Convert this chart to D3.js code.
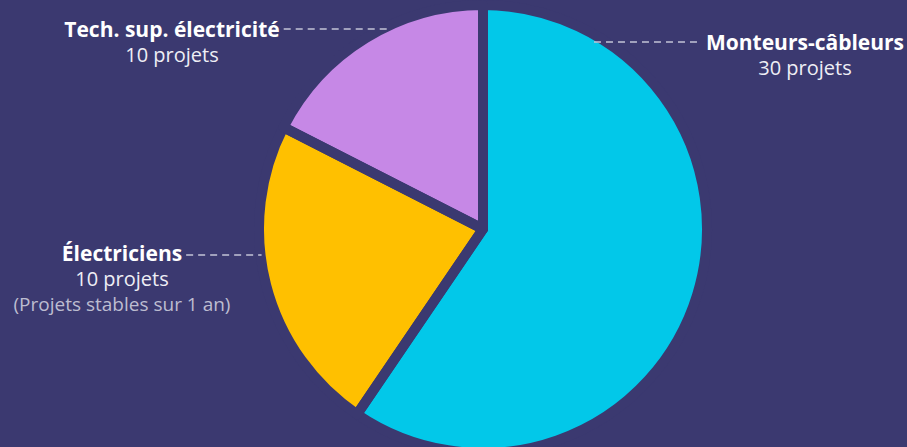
<!DOCTYPE html>
<meta charset="utf-8">
<style>
html, body { margin: 0; padding: 0; background: #3b3970; }
svg { display: block; }
.name  { font-family: "Open Sans", sans-serif; font-weight: 700; font-size: 21px; fill: #ffffff; }
.count { font-family: "Open Sans", sans-serif; font-weight: 400; font-size: 20px; fill: #eeeef5; }
.note  { font-family: "Open Sans", sans-serif; font-weight: 400; font-size: 19px; fill: #bdbdd0; }
.leader { stroke: #c4c4d6; stroke-width: 1.5; stroke-dasharray: 7 5; fill: none; }
</style>
<svg id="chart" width="907" height="447"></svg>

<script src="https://cdn.jsdelivr.net/npm/d3@7/dist/d3.min.js"></script>
<script>
// ********** DATA **********
var categories = ["Monteurs-câbleurs", "Électriciens", "Tech. sup. électricité"];
var projects = [30, 10, 10];            // shown in the labels
var shares = [59.5, 23, 17.5];          // slice sizes as drawn
var notes = ["", "(Projets stables sur 1 an)", ""];

// ********** LAYOUT / STYLE **********
var bg = "#3b3970";
var colors = ["#02c8e9", "#ffc000", "#c688e6"];
var cx = 483, cy = 229, radius = 224, gap = 10;
// label placement: centre x of text block, baseline of name, leader y, side
var labelPos = [
  { x: 805, y: 50, ly: 42, side: "right" },
  { x: 122, y: 261, ly: 255, side: "left" },
  { x: 172, y: 37, ly: 29, side: "left" }
];

var svg = d3.select("#chart");
var visR = radius - gap / 2;

var pie = d3.pie().sort(null).value(function (d) { return d; });
var arc = d3.arc().innerRadius(0).outerRadius(radius);
var slices = pie(shares);

var g = svg.append("g").attr("transform", "translate(" + cx + "," + cy + ")");

// fills first, then the background-coloured outlines on top (makes the gaps)
g.selectAll("path.fill")
  .data(slices)
  .enter().append("path").attr("class", "fill")
  .attr("d", arc)
  .attr("fill", function (d, i) { return colors[i]; });

g.selectAll("path.gap")
  .data(slices)
  .enter().append("path").attr("class", "gap")
  .attr("d", arc)
  .attr("fill", "none")
  .attr("stroke", bg)
  .attr("stroke-width", gap)
  .attr("stroke-linejoin", "round");

// ********** LABELS **********
var labels = svg.selectAll("g.label")
  .data(categories)
  .enter().append("g").attr("class", "label");

labels.each(function (name, i) {
  var p = labelPos[i];
  var sel = d3.select(this);

  var t = sel.append("text").attr("class", "name")
    .attr("x", p.x).attr("y", p.y)
    .attr("text-anchor", "middle").text(name);

  sel.append("text").attr("class", "count")
    .attr("x", p.x).attr("y", p.y + 25)
    .attr("text-anchor", "middle").text(projects[i] + " projets");

  if (notes[i]) {
    sel.append("text").attr("class", "note")
      .attr("x", p.x).attr("y", p.y + 50)
      .attr("text-anchor", "middle").text(notes[i]);
  }

  // leader line from text edge to the pie edge
  var w = t.node().getComputedTextLength();
  var dy = p.ly - cy;
  var edge = Math.sqrt(visR * visR - dy * dy);
  var x1, x2;
  if (p.side === "right") {
    x1 = cx + edge - 3;
    x2 = p.x - w / 2 - 8;
  } else {
    x1 = p.x + w / 2 + 4;
    x2 = cx - edge - 4;
  }
  sel.append("line").attr("class", "leader")
    .attr("x1", x1).attr("x2", x2)
    .attr("y1", p.ly).attr("y2", p.ly);
});
</script>
